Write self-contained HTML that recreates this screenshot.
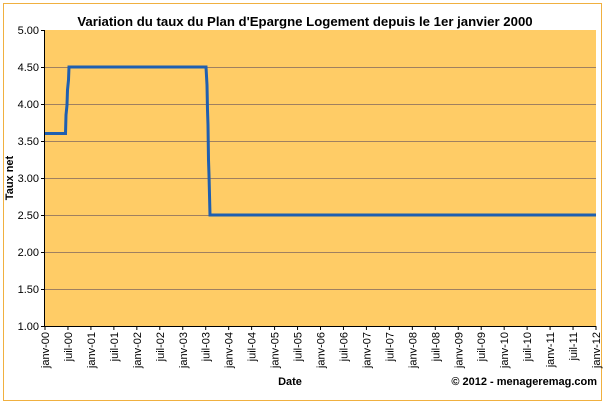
<!DOCTYPE html>
<html><head><style>
body{margin:0;background:#fff;}
svg{display:block;font-family:"Liberation Sans",Arial,sans-serif;}
</style></head><body>
<svg width="605" height="405" viewBox="0 0 605 405">
<rect x="3.5" y="3.5" width="598" height="397" fill="#fff" stroke="#f0b040" stroke-width="1"/>
<text x="305" y="26" text-anchor="middle" font-size="13.2" font-weight="bold">Variation du taux du Plan d'Epargne Logement depuis le 1er janvier 2000</text>
<rect x="45" y="30" width="551" height="296" fill="#ffcc66"/>
<g stroke="#a08060" stroke-width="1">
<line x1="45" y1="67.5" x2="596" y2="67.5"/>
<line x1="45" y1="104.5" x2="596" y2="104.5"/>
<line x1="45" y1="141.5" x2="596" y2="141.5"/>
<line x1="45" y1="178.5" x2="596" y2="178.5"/>
<line x1="45" y1="215.5" x2="596" y2="215.5"/>
<line x1="45" y1="252.5" x2="596" y2="252.5"/>
<line x1="45" y1="289.5" x2="596" y2="289.5"/>
</g>
<g stroke="#000" stroke-width="1">
<line x1="44.5" y1="30" x2="44.5" y2="327"/>
<line x1="44" y1="326.5" x2="596" y2="326.5"/>
</g>
<g font-size="11" text-anchor="end" fill="#000">
<text x="39" y="34">5.00</text><text x="39" y="71">4.50</text><text x="39" y="108">4.00</text>
<text x="39" y="145">3.50</text><text x="39" y="182">3.00</text><text x="39" y="219">2.50</text>
<text x="39" y="256">2.00</text><text x="39" y="293">1.50</text><text x="39" y="330">1.00</text>
</g>
<g stroke="#000"><line x1="41" y1="30.5" x2="45" y2="30.5"/><line x1="41" y1="67.5" x2="45" y2="67.5"/><line x1="41" y1="104.5" x2="45" y2="104.5"/><line x1="41" y1="141.5" x2="45" y2="141.5"/><line x1="41" y1="178.5" x2="45" y2="178.5"/><line x1="41" y1="215.5" x2="45" y2="215.5"/><line x1="41" y1="252.5" x2="45" y2="252.5"/><line x1="41" y1="289.5" x2="45" y2="289.5"/><line x1="41" y1="326.5" x2="45" y2="326.5"/></g>
<g id="xt" font-size="11" fill="#000"></g>
<polyline fill="none" stroke="#1f5fb0" stroke-width="3" points="45,133.5 65.5,133.5 66,115 67,105 67.5,90 68.5,80 69,67 206,67 207,85 207.5,110 208,125 208.5,160 209,175 209.5,195 210,215 596,215"/>
<text transform="translate(13,178) rotate(-90)" text-anchor="middle" font-size="11" font-weight="bold">Taux net</text>
<text x="290" y="385" text-anchor="middle" font-size="11" font-weight="bold">Date</text>
<text x="597" y="385" text-anchor="end" font-size="11" font-weight="bold">© 2012 - menageremag.com</text>
</svg>
<script>
var g=document.getElementById('xt'),s='';
for(var i=0;i<=24;i++){var x=45+i*551/24,yr=('0'+Math.floor(i/2)).slice(-2),l=(i%2?'juil-':'janv-')+yr;
s+='<line x1="'+x+'" y1="326" x2="'+x+'" y2="330" stroke="#000"/>';
s+='<text transform="translate('+(x+4)+',332) rotate(-90)" text-anchor="end">'+l+'</text>';}
g.innerHTML=s;
</script>
</body></html>
